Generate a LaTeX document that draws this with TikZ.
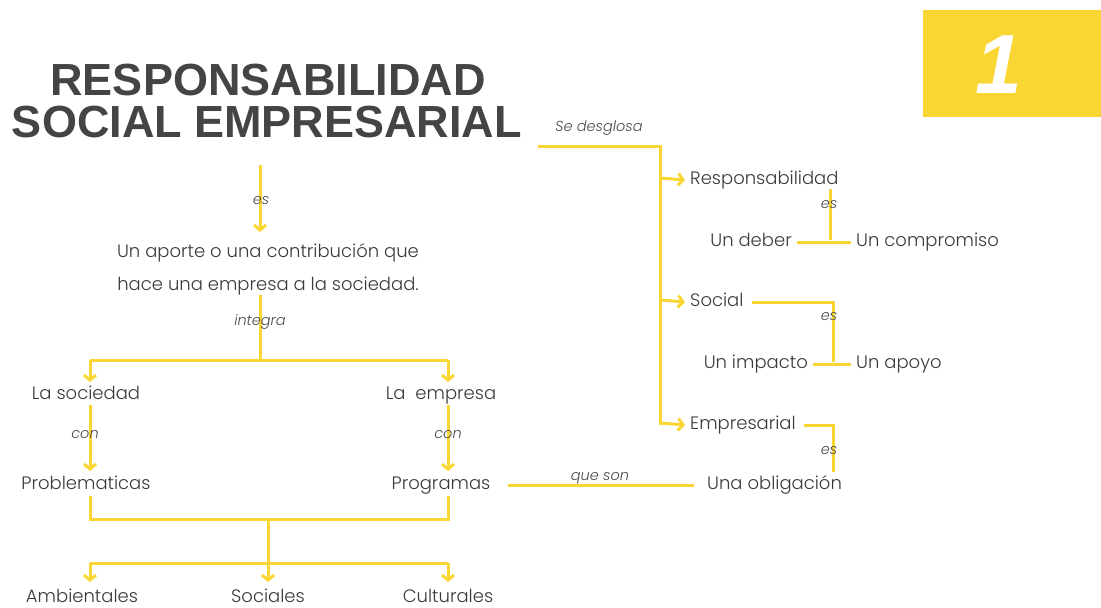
\documentclass[tikz,border=0pt]{standalone}
\usepackage{fontspec}
\usetikzlibrary{arrows.meta}
\newfontfamily\bodyf{Poppins Light}
\newfontfamily\bodyit{Poppins Light Italic}
\newfontfamily\titlef{Liberation Sans}
\definecolor{ylw}{HTML}{FAD634}
\definecolor{txtc}{HTML}{3A3A3A}
\definecolor{lblc}{HTML}{4A4A4A}
\definecolor{ttlc}{HTML}{444444}
\begin{document}
\begin{tikzpicture}[x=1pt,y=-1pt,
  yl/.style={draw=ylw, line width=3pt},
  arr/.style={yl, -{Straight Barb[length=5pt,width=12pt]}},
  txt/.style={font=\bodyf\fontsize{18}{33}\selectfont, text=txtc, inner xsep=5pt, inner ysep=1pt, text height=13pt, text depth=4pt, align=center, yshift=-2pt},
  lbl/.style={font=\bodyit\fontsize{14.5}{16}\selectfont, text=lblc, inner sep=1pt},
  ttl/.style={font=\titlef\bfseries\fontsize{45}{48}\selectfont, text=ttlc, inner sep=0pt}]
\useasboundingbox (0,0) rectangle (1101,608);
% badge
\node[fill=ylw, minimum width=178pt, minimum height=107pt, inner sep=0pt, anchor=north west] (badge) at (923,10) {};
\node[font=\titlef\bfseries\itshape\fontsize{84}{90}\selectfont, text=white, inner sep=0pt, anchor=base] (num) at (999,93) {1};
% title
\node[ttl, anchor=base] (t1) at (268,95) {RESPONSABILIDAD};
\node[ttl, anchor=base] (t2) at (267,137) {SOCIAL EMPRESARIAL};
% left column
\node[txt, text height=, text depth=] (aporte) at (268,267) {Un aporte o una contribución que\\hace una empresa a la sociedad.};
\node[txt] (lasoc) at (86,393) {La sociedad};
\node[txt] (laemp) at (441,393) {La\ \ empresa};
\node[txt] (prob) at (86,483) {Problematicas};
\node[txt] (prog) at (441,483) {Programas};
\node[txt] (amb) at (82,596) {Ambientales};
\node[txt] (socs) at (268,596) {Sociales};
\node[txt] (cult) at (448,596) {Culturales};
% right column
\node[txt, anchor=west] (resp) at (685,178) {Responsabilidad};
\node[txt, anchor=east] (deber) at (797,240) {Un deber};
\node[txt, anchor=west] (comp) at (851,240) {Un compromiso};
\node[txt, anchor=west] (social) at (685,300) {Social};
\node[txt, anchor=east] (impacto) at (813,362) {Un impacto};
\node[txt, anchor=west] (apoyo) at (851,362) {Un apoyo};
\node[txt, anchor=west] (empr) at (685,423) {Empresarial};
\node[txt, anchor=west] (oblig) at (702,483) {Una obligación};
% coordinates
\coordinate (c1) at (260,165);
\coordinate (c2) at (260,295);
\coordinate (j1) at (260,360);
\coordinate (j2) at (90,360);
\coordinate (j3) at (448,360);
\coordinate (b1) at (90,519);
\coordinate (b2) at (448,519);
\coordinate (b3) at (268,519);
\coordinate (b4) at (268,563);
\coordinate (b5) at (90,563);
\coordinate (b6) at (448,563);
\coordinate (r0) at (538,146);
\coordinate (r1) at (660,146);
\coordinate (r2) at (660,425);
\coordinate (s1) at (833,362);
\coordinate (e1) at (833,472);
% left connectors
\draw[arr] (c1) -- (260,232);
\draw[yl] (c2) -- (j1);
\draw[yl] (j2) -- (j3);
\draw[arr] (j2) -- (90,382);
\draw[arr] (j3) -- (448,382);
\draw[arr] (90,405) -- (90,471);
\draw[arr] (448,405) -- (448,471);
\draw[yl] (90,496) -- (b1) -- (b2) -- (448,496);
\draw[yl] (b3) -- (b4);
\draw[yl] (b5) -- (b6);
\draw[arr] (b5) -- (90,582);
\draw[arr] (b4) -- (268,582);
\draw[arr] (b6) -- (448,582);
% right connectors
\draw[yl] (r0) -- (r1) -- (r2);
\draw[arr] (660,178) -- (resp.west);
\draw[arr] (660,300) -- (social.west);
\draw[arr] (660,423) -- (empr.west);
\draw[yl] (830,189) -- (830,240);
\draw[yl] (deber.east) -- (comp.west);
\draw[yl] ([xshift=3pt]social.east) -| (s1);
\draw[yl] (impacto.east) -- (apoyo.west);
\draw[yl] ([xshift=3pt]empr.east) -| (e1);
\draw[yl, shorten <=12pt, shorten >=8pt] (prog.east) -- (oblig.west);
% labels
\node[lbl] (l1) at (261,201) {es};
\node[lbl] (l2) at (260,322) {integra};
\node[lbl] (l3) at (85,435) {con};
\node[lbl] (l4) at (448,435) {con};
\node[lbl] (l5) at (600,478) {que son};
\node[lbl] (l6) at (599,128) {Se desglosa};
\node[lbl] (l7) at (829,205) {es};
\node[lbl] (l8) at (829,317) {es};
\node[lbl] (l9) at (829,451) {es};
\end{tikzpicture}
\end{document}
